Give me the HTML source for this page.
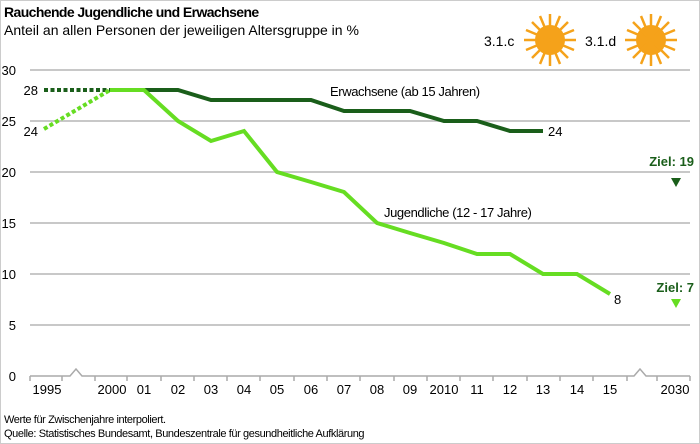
<!DOCTYPE html><html><head><style>body{margin:0;background:#fff}svg{display:block;font-family:"Liberation Sans",sans-serif}</style></head><body>
<svg width="700" height="444" viewBox="0 0 700 444">
<rect x="0.5" y="0.5" width="699" height="443" fill="#fff" stroke="#ccc"/>
<text x="4" y="17" font-size="14" font-weight="bold" letter-spacing="-0.6">Rauchende Jugendliche und Erwachsene</text>
<text x="4" y="35" font-size="14">Anteil an allen Personen der jeweiligen Altersgruppe in %</text>
<text x="484" y="46" font-size="14">3.1.c</text><text x="585" y="46" font-size="14">3.1.d</text>
<defs><g id="sun"><circle r="15" fill="#f5a21a"/><g stroke="#f5a21a" stroke-width="2.5">
<line x1="0" y1="-26" x2="0" y2="26"/><line x1="-26" y1="0" x2="26" y2="0"/><line x1="-18" y1="-18" x2="18" y2="18"/><line x1="-18" y1="18" x2="18" y2="-18"/>
<line x1="-10" y1="-24" x2="10" y2="24"/><line x1="-24" y1="-10" x2="24" y2="10"/><line x1="10" y1="-24" x2="-10" y2="24"/><line x1="24" y1="-10" x2="-24" y2="10"/></g></g></defs>
<use href="#sun" x="550" y="40"/><use href="#sun" x="651" y="40"/>
<g stroke="#c8c8c8" stroke-width="2"><line x1="30" y1="70" x2="690" y2="70"/><line x1="30" y1="121" x2="690" y2="121"/><line x1="30" y1="172" x2="690" y2="172"/><line x1="30" y1="223" x2="690" y2="223"/><line x1="30" y1="274" x2="690" y2="274"/><line x1="30" y1="325" x2="690" y2="325"/></g>
<g stroke="#aaa" stroke-width="1.5" fill="none"><polyline points="30,376 70,376 76,369 82,376 634,376 640,369 646,376 690,376"/>
<path d="M30 376v5M62 376v5M95 376v5M127 376v5M161 376v5M194 376v5M227 376v5M260 376v5M294 376v5M327 376v5M360 376v5M394 376v5M427 376v5M460 376v5M493 376v5M527 376v5M560 376v5M593 376v5M627 376v5M657 376v5M690 376v5"/></g>
<g font-size="13" fill="#000"><text x="16" y="75" text-anchor="end">30</text><text x="16" y="126" text-anchor="end">25</text><text x="16" y="177" text-anchor="end">20</text><text x="16" y="228" text-anchor="end">15</text><text x="16" y="279" text-anchor="end">10</text><text x="16" y="330" text-anchor="end">5</text><text x="16" y="381" text-anchor="end">0</text>
<g text-anchor="middle"><text x="47" y="394">1995</text><text x="112" y="394">2000</text><text x="144" y="394">01</text><text x="178" y="394">02</text><text x="211" y="394">03</text><text x="244" y="394">04</text><text x="277" y="394">05</text><text x="311" y="394">06</text><text x="344" y="394">07</text><text x="377" y="394">08</text><text x="410" y="394">09</text><text x="444" y="394">2010</text><text x="477" y="394">11</text><text x="510" y="394">12</text><text x="543" y="394">13</text><text x="577" y="394">14</text><text x="610" y="394">15</text><text x="675" y="394">2030</text></g></g>
<line x1="44" y1="90" x2="110" y2="90" stroke="#1a5e1a" stroke-width="4" stroke-dasharray="4,2.5"/>
<line x1="44" y1="129" x2="110" y2="90" stroke="#66dd22" stroke-width="4" stroke-dasharray="4,2.5"/>
<polyline points="110,90 144,90 178,90 211,100 244,100 277,100 311,100 344,111 377,111 410,111 444,121 477,121 510,131 543,131" fill="none" stroke="#1a5e1a" stroke-width="4"/>
<polyline points="110,90 144,90 178,121 211,141 244,131 277,172 311,182 344,192 377,223 410,233 444,243 477,254 510,254 543,274 577,274 610,294" fill="none" stroke="#66dd22" stroke-width="4"/>
<g font-size="13"><text x="38" y="95" text-anchor="end">28</text><text x="38" y="136" text-anchor="end">24</text><text x="548" y="136">24</text><text x="614" y="304">8</text>
<text x="330" y="96" letter-spacing="-0.4">Erwachsene (ab 15 Jahren)</text><text x="384" y="217" letter-spacing="-0.4">Jugendliche (12 - 17 Jahre)</text>
<text x="694" y="166" text-anchor="end" font-weight="bold" fill="#1a5e1a">Ziel: 19</text><text x="694" y="292" text-anchor="end" font-weight="bold" fill="#1a5e1a">Ziel: 7</text></g>
<polygon points="671,178 681,178 676,187" fill="#1a5e1a"/><polygon points="671,299 681,299 676,308" fill="#66dd22"/>
<g font-size="11" letter-spacing="-0.4"><text x="4" y="423">Werte für Zwischenjahre interpoliert.</text><text x="4" y="437">Quelle: Statistisches Bundesamt, Bundeszentrale für gesundheitliche Aufklärung</text></g>
</svg></body></html>
